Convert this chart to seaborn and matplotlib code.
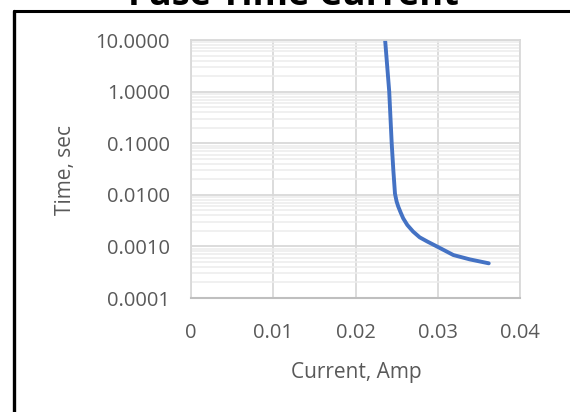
import matplotlib
matplotlib.use("Agg")
import matplotlib.pyplot as plt
from matplotlib.lines import Line2D
from matplotlib.ticker import FixedLocator, LogLocator, NullFormatter
import pandas as pd
import seaborn as sns

# ==========================================
# Data
# ==========================================
current_amp = [0.0236, 0.0241, 0.0244, 0.0246, 0.0248, 0.0250, 0.0252,
               0.0255, 0.0258, 0.0263, 0.0270, 0.0278, 0.0287, 0.0301,
               0.0319, 0.0339, 0.0362]
time_sec = [10.0, 1.0, 0.1, 0.03, 0.0105, 0.0074, 0.0059,
            0.0045, 0.0035, 0.0026, 0.00194, 0.0015, 0.00125, 0.00096,
            0.00068, 0.00056, 0.00047]

x_ticks = [0, 0.01, 0.02, 0.03, 0.04]
x_tick_labels = ["0", "0.01", "0.02", "0.03", "0.04"]
y_ticks = [0.0001, 0.001, 0.01, 0.1, 1, 10]
y_tick_labels = ["0.0001", "0.0010", "0.0100", "0.1000", "1.0000", "10.0000"]

df = pd.DataFrame({"Current": current_amp, "Time": time_sec})

# ==========================================
# Style
# ==========================================
sns.set_theme(style="white")
plt.rcParams["font.family"] = ["Open Sans", "DejaVu Sans"]

W, H = 570, 412
fig = plt.figure(figsize=(W / 100, H / 100), dpi=100)
ax = fig.add_axes([191 / W, 1 - 298 / H, (520 - 191) / W, (298 - 40) / H])

sns.lineplot(data=df, x="Current", y="Time", ax=ax, color="#4472C4",
             linewidth=2.8, sort=False, estimator=None)

ax.set_yscale("log")
ax.set_xlim(0, 0.04)
ax.set_ylim(0.0001, 10)

ax.xaxis.set_major_locator(FixedLocator(x_ticks))
ax.set_xticklabels(x_tick_labels)
ax.yaxis.set_major_locator(FixedLocator(y_ticks))
ax.set_yticklabels(y_tick_labels)
ax.yaxis.set_minor_locator(LogLocator(base=10, subs=range(2, 10)))
ax.yaxis.set_minor_formatter(NullFormatter())

ax.grid(which="major", color="#d9d9d9", linewidth=1.3)
ax.grid(which="minor", axis="y", color="#ececec", linewidth=1.1)
ax.set_axisbelow(True)

ax.tick_params(which="both", length=0, labelsize=14.5, labelcolor="#595959")
ax.tick_params(axis="y", pad=15)
ax.tick_params(axis="x", pad=18)

for side in ["top", "left", "right"]:
    ax.spines[side].set_color("#d9d9d9")
    ax.spines[side].set_linewidth(1.3)
ax.spines["bottom"].set_color("#bfbfbf")
ax.spines["bottom"].set_linewidth(1.5)

ax.set_xlabel("")
ax.set_ylabel("")
fig.text(356 / W, 1 - 378 / H, "Current, Amp", ha="center", va="baseline",
         fontsize=15, color="#595959")
fig.text(65 / W, 1 - 170 / H, "Time, sec", ha="center", va="center",
         rotation=90, fontsize=15, color="#595959")

# ==========================================
# Chart border and clipped title
# ==========================================
fig.add_artist(Line2D([14 / W, 1.0], [1 - 10.5 / H, 1 - 10.5 / H],
                      transform=fig.transFigure, color="black", linewidth=2.2))
fig.add_artist(Line2D([14 / W, 14 / W], [0.0, 1 - 10.5 / H],
                      transform=fig.transFigure, color="black", linewidth=2.4))
fig.text(293 / W, 1 - 5 / H, "Fuse Time Current", ha="center", va="baseline",
         fontsize=26, fontweight="bold", color="black")

fig.savefig("out.png", dpi=100)
